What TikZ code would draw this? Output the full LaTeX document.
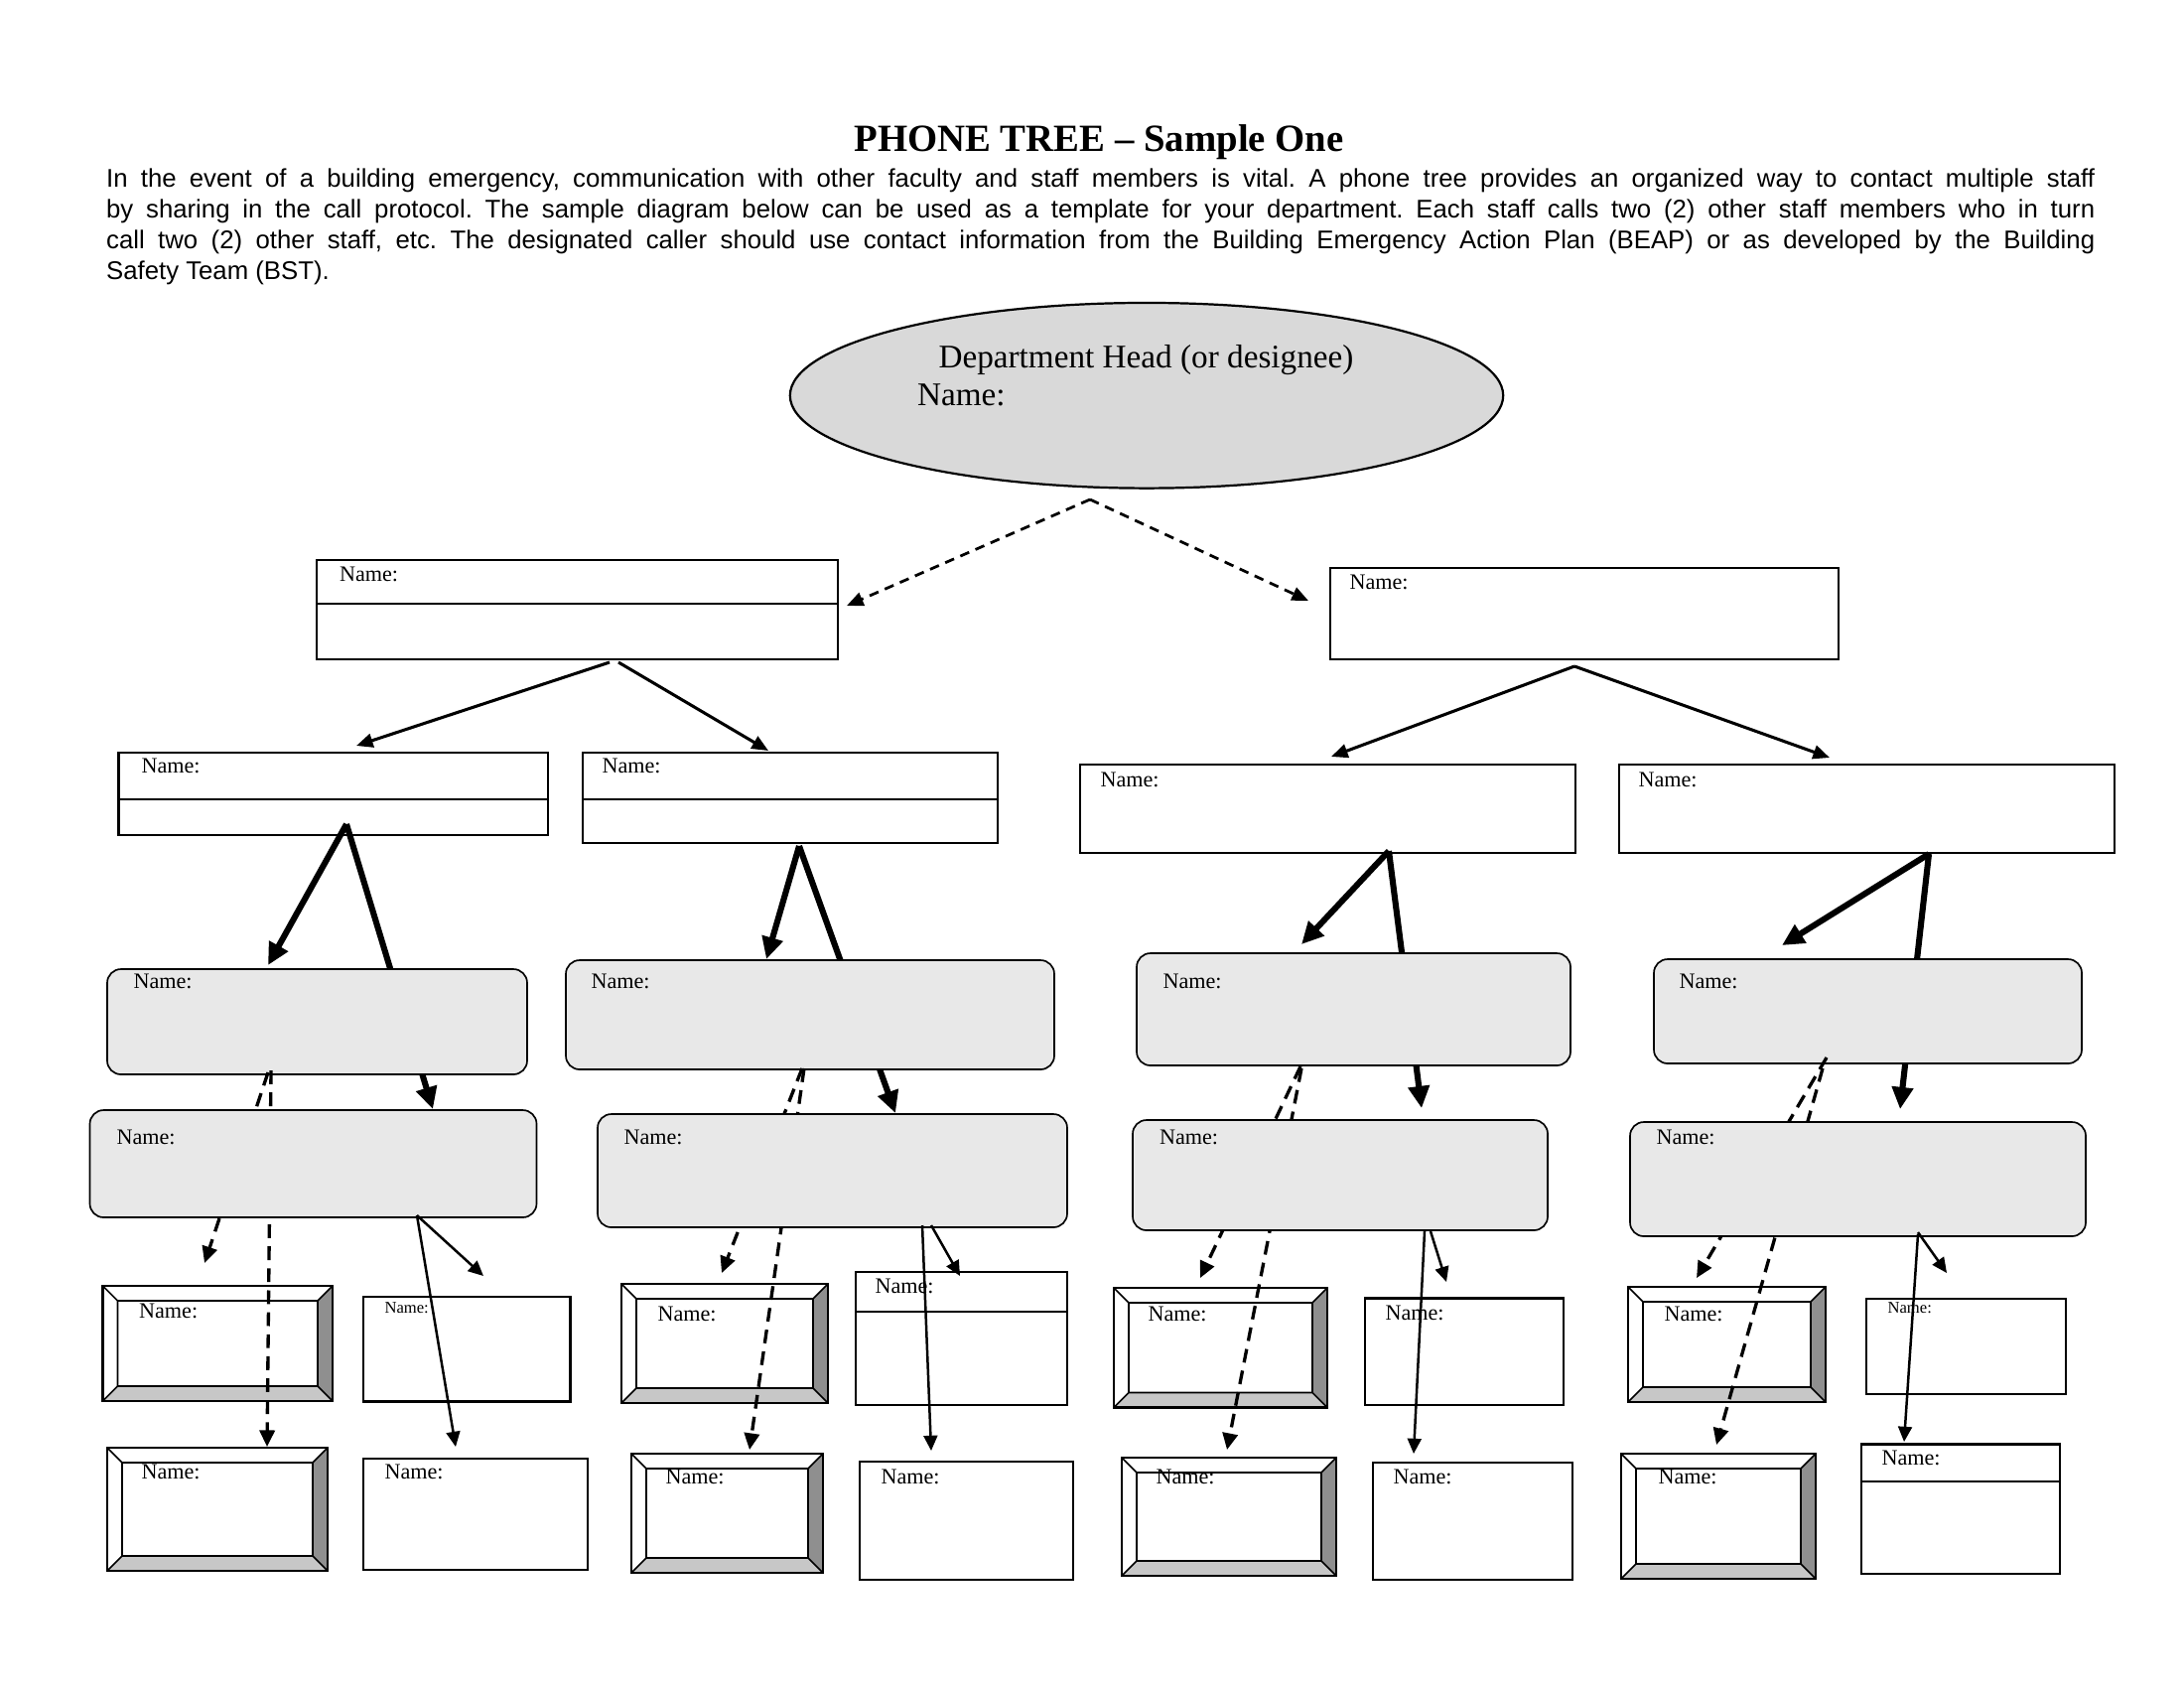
\documentclass[tikz,border=0pt]{standalone}
\usepackage{fontspec}
\setmainfont{Liberation Serif}
\newfontfamily\arialfont{Liberation Sans}
\usetikzlibrary{arrows.meta,shapes.geometric,fit}

\tikzset{
  namebox/.style={draw, line width=1pt, fill=white, inner sep=0pt},
  callbox/.style={draw, line width=0.6pt, fill=black!9, rounded corners=5pt, inner sep=0pt},
  bevelbox/.style={draw, line width=0.8pt, fill=white, inner sep=0pt, path picture={
      \coordinate (pa) at (path picture bounding box.north west);
      \coordinate (pb) at (path picture bounding box.north east);
      \coordinate (pc) at (path picture bounding box.south east);
      \coordinate (pd) at (path picture bounding box.south west);
      \coordinate (qa) at ([shift={(15,15)}]pa);
      \coordinate (qb) at ([shift={(-15,15)}]pb);
      \coordinate (qc) at ([shift={(-15,-15)}]pc);
      \coordinate (qd) at ([shift={(15,-15)}]pd);
      \fill[black!44] (pb) -- (pc) -- (qc) -- (qb) -- cycle;
      \fill[black!22] (pd) -- (pc) -- (qc) -- (qd) -- cycle;
      \draw[line width=0.6pt] (qa) rectangle (qc) (pa) -- (qa) (pb) -- (qb) (pc) -- (qc) (pd) -- (qd);
    }},
  headoval/.style={ellipse, draw, line width=0.8pt, fill=black!15, inner sep=0pt,
    minimum width=9.12cm, minimum height=2.37cm},
  lbl/.style={anchor=base west, inner sep=0pt, font=\fontsize{8}{9}\selectfont},
  tinylbl/.style={anchor=base west, inner sep=0pt, font=\fontsize{6}{7}\selectfont},
  headcall/.style={line width=1pt, dash pattern=on 3.5pt off 2.5pt, -{Triangle[length=6pt,width=5pt]}},
  leadcall/.style={line width=1.1pt, -{Triangle[length=6pt,width=5pt]}},
  thickcall/.style={line width=2.2pt, -{Triangle[length=8pt,width=7.5pt]}},
  dashcall/.style={line width=1.2pt, dash pattern=on 5pt off 3pt, -{Triangle[length=6pt,width=5.5pt]}},
  thincall/.style={line width=0.9pt, -{Triangle[length=5.5pt,width=5pt]}},
}

\begin{document}
\frenchspacing
\begin{tikzpicture}[x=0.0127cm, y=-0.0127cm]
  \useasboundingbox (0,0) rectangle (2200,1700);

  % heading
  \node[anchor=base, inner sep=0pt, font=\fontsize{14}{16}\selectfont\bfseries] (title) at (1107,152) {PHONE TREE – Sample One};
  \node[anchor=north west, inner sep=0pt, text width=25.43cm, align=justify,
    font=\arialfont\fontsize{9.3}{11.3}\selectfont] (intro) at (106.6,168.8)
    {In the event of a building emergency, communication with other faculty and staff members is vital. A phone tree provides an organized way to contact multiple staff\linebreak
     by sharing in the call protocol. The sample diagram below can be used as a template for your department. Each staff calls two (2) other staff members who in turn\linebreak
     call two (2) other staff, etc. The designated caller should use contact information from the Building Emergency Action Plan (BEAP) or as developed by the Building\linebreak
     Safety Team (BST).};

  % department head
  \node[headoval] (head) at (1155,398.3) {};
  \node[anchor=base west, inner sep=0pt, font=\fontsize{12}{14}\selectfont] (headtxt) at (945,370) {Department Head (or designee)};
  \node[anchor=base west, inner sep=0pt, font=\fontsize{12}{14}\selectfont] (headname) at (923.5,408.3) {Name:};

  % first callers
  \node[namebox, fit={(319,564) (844,664)}] (lead1) {};
  \draw[line width=1pt] (319,608) -- (844,608);
  \node[lbl] at (341.5,585) {Name:};
  \node[namebox, fit={(1340,572) (1852,664)}] (lead2) {};
  \node[lbl] at (1359,593) {Name:};

  % second row
  \node[namebox, fit={(119.5,758) (552,841)}] (r2a) {};
  \draw[line width=1pt] (119.5,805) -- (552,805);
  \node[lbl] at (142,778) {Name:};
  \node[namebox, fit={(587,758) (1005,849)}] (r2b) {};
  \draw[line width=1pt] (587,805) -- (1005,805);
  \node[lbl] at (606,778) {Name:};
  \node[namebox, fit={(1088,770) (1587,859)}] (r2c) {};
  \node[lbl] at (1108,792) {Name:};
  \node[namebox, fit={(1631,770) (2130,859)}] (r2d) {};
  \node[lbl] at (1650,792) {Name:};

  % fifth row
  \node[bevelbox, fit={(103.5,1295) (335,1411)}] (r5a) {};
  \node[namebox, fit={(366,1306) (574.6,1411.7)}] (r5b) {};
  \node[bevelbox, fit={(626,1293) (834,1413)}] (r5c) {};
  \node[namebox, fit={(862,1281) (1075,1415)}] (r5d) {};
  \draw[line width=1pt] (862,1321) -- (1075,1321);
  \node[bevelbox, fit={(1122,1297) (1337,1417.5)}] (r5e) {};
  \node[namebox, fit={(1375,1307.5) (1575,1415)}] (r5f) {};
  \node[bevelbox, fit={(1640,1296) (1839,1412)}] (r5g) {};
  \node[namebox, fit={(1880,1308) (2081,1404)}] (r5h) {};

  % sixth row
  \node[bevelbox, fit={(108,1458) (330,1582)}] (r6a) {};
  \node[namebox, fit={(366,1469) (592,1581)}] (r6b) {};
  \node[bevelbox, fit={(636,1464) (829,1584)}] (r6c) {};
  \node[namebox, fit={(866,1472) (1081,1591)}] (r6d) {};
  \node[bevelbox, fit={(1130,1468) (1346,1587)}] (r6e) {};
  \node[namebox, fit={(1383,1473) (1584,1591)}] (r6f) {};
  \node[bevelbox, fit={(1633,1464) (1829,1590)}] (r6g) {};
  \node[namebox, fit={(1875,1454.5) (2075,1585)}] (r6h) {};
  \draw[line width=1pt] (1875,1492) -- (2075,1492);

  % arrow ends
  \coordinate (h0) at (1098,503);
  \coordinate (h1) at (853,610);
  \coordinate (h2) at (1318,605);
  \coordinate (l0) at (614,667);
  \coordinate (l1) at (623,667);
  \coordinate (l2) at (359,751);
  \coordinate (l3) at (774,756);
  \coordinate (m0) at (1586,671);
  \coordinate (m1) at (1341,762);
  \coordinate (m2) at (1843,763);
  \coordinate (a0) at (349,830);  \coordinate (a1) at (270,972);  \coordinate (a2) at (436,1117);
  \coordinate (b0) at (805,852);  \coordinate (b1) at (772,966);  \coordinate (b2) at (902,1121);
  \coordinate (c0) at (1399,857); \coordinate (c1) at (1311,951); \coordinate (c2) at (1432,1116);
  \coordinate (d0) at (1943,860); \coordinate (d1) at (1795,952); \coordinate (d2) at (1914,1117);
  \coordinate (a3) at (270,1080); \coordinate (a4) at (273,1078); \coordinate (a5) at (206,1272); \coordinate (a6) at (269,1457);
  \coordinate (b3) at (808,1076); \coordinate (b4) at (810,1076); \coordinate (b5) at (727,1282); \coordinate (b6) at (755,1460);
  \coordinate (c3) at (1310,1074); \coordinate (c4) at (1311,1076); \coordinate (c5) at (1209,1287); \coordinate (c6) at (1236,1460);
  \coordinate (d3) at (1840,1065); \coordinate (d4) at (1836,1076); \coordinate (d5) at (1709,1287); \coordinate (d6) at (1729,1455);
  \coordinate (a7) at (420,1224); \coordinate (a8) at (420,1224); \coordinate (a9) at (487,1285); \coordinate (a10) at (459,1457);
  \coordinate (b7) at (938,1234); \coordinate (b8) at (929,1234); \coordinate (b9) at (967,1285); \coordinate (b10) at (938,1461);
  \coordinate (c7) at (1441,1240); \coordinate (c8) at (1435,1240); \coordinate (c9) at (1457,1291); \coordinate (c10) at (1424,1464);
  \coordinate (d7) at (1932,1241); \coordinate (d8) at (1932,1243); \coordinate (d9) at (1961,1282); \coordinate (d10) at (1918,1452);

  % calls down to row 1 and row 2
  \draw[headcall] (h0) -- (h1);
  \draw[headcall] (h0) -- (h2);
  \draw[leadcall] (l0) -- (l2);
  \draw[leadcall] (l1) -- (l3);
  \draw[leadcall] (m0) -- (m1);
  \draw[leadcall] (m0) -- (m2);

  % row 2 calls (the long ones run behind row 3)
  \draw[thickcall] (a0) -- (a1);  \draw[thickcall] (a0) -- (a2);
  \draw[thickcall] (b0) -- (b1);  \draw[thickcall] (b0) -- (b2);
  \draw[thickcall] (c0) -- (c1);  \draw[thickcall] (c0) -- (c2);
  \draw[thickcall] (d0) -- (d1);  \draw[thickcall] (d0) -- (d2);

  % third row
  \node[callbox, fit={(108,976) (531,1082)}] (r3a) {};
  \node[lbl] at (134,995) {Name:};
  \node[callbox, fit={(570,967) (1062,1077)}] (r3b) {};
  \node[lbl] at (595,995) {Name:};
  \node[callbox, fit={(1145,960) (1582,1073)}] (r3c) {};
  \node[lbl] at (1171,995) {Name:};
  \node[callbox, fit={(1666,966) (2097,1071)}] (r3d) {};
  \node[lbl] at (1691,995) {Name:};

  % row 3 calls (behind row 4)
  \draw[dashcall] (a3) -- (a5);  \draw[dashcall] (a4) -- (a6);
  \draw[dashcall] (b3) -- (b5);  \draw[dashcall] (b4) -- (b6);
  \draw[dashcall] (c3) -- (c5);  \draw[dashcall] (c4) -- (c6);
  \draw[dashcall] (d3) -- (d5);  \draw[dashcall] (d4) -- (d6);

  % fourth row
  \node[callbox, fit={(90.5,1118) (540.5,1226)}] (r4a) {};
  \node[lbl] at (117,1152) {Name:};
  \node[callbox, fit={(602,1122) (1075,1236)}] (r4b) {};
  \node[lbl] at (628,1152) {Name:};
  \node[callbox, fit={(1141,1128) (1559,1239)}] (r4c) {};
  \node[lbl] at (1167.5,1152) {Name:};
  \node[callbox, fit={(1642,1130) (2101,1245)}] (r4d) {};
  \node[lbl] at (1668,1152) {Name:};

  % row 4 calls
  \draw[thincall] (a7) -- (a9);  \draw[thincall] (a8) -- (a10);
  \draw[thincall] (b7) -- (b9);  \draw[thincall] (b8) -- (b10);
  \draw[thincall] (c7) -- (c9);  \draw[thincall] (c8) -- (c10);
  \draw[thincall] (d7) -- (d9);  \draw[thincall] (d8) -- (d10);

  % labels rows 5 and 6
  \node[lbl] at (139.6,1327) {Name:};
  \node[tinylbl] at (387,1322) {Name:};
  \node[lbl] at (662,1330) {Name:};
  \node[lbl] at (881,1302) {Name:};
  \node[lbl] at (1156,1330) {Name:};
  \node[lbl] at (1395,1329) {Name:};
  \node[lbl] at (1676,1330) {Name:};
  \node[tinylbl] at (1901,1322) {Name:};
  \node[lbl] at (142,1489) {Name:};
  \node[lbl] at (387,1489) {Name:};
  \node[lbl] at (670,1494) {Name:};
  \node[lbl] at (887,1494) {Name:};
  \node[lbl] at (1164,1494) {Name:};
  \node[lbl] at (1403,1494) {Name:};
  \node[lbl] at (1670,1494) {Name:};
  \node[lbl] at (1895,1475) {Name:};
\end{tikzpicture}
\end{document}
